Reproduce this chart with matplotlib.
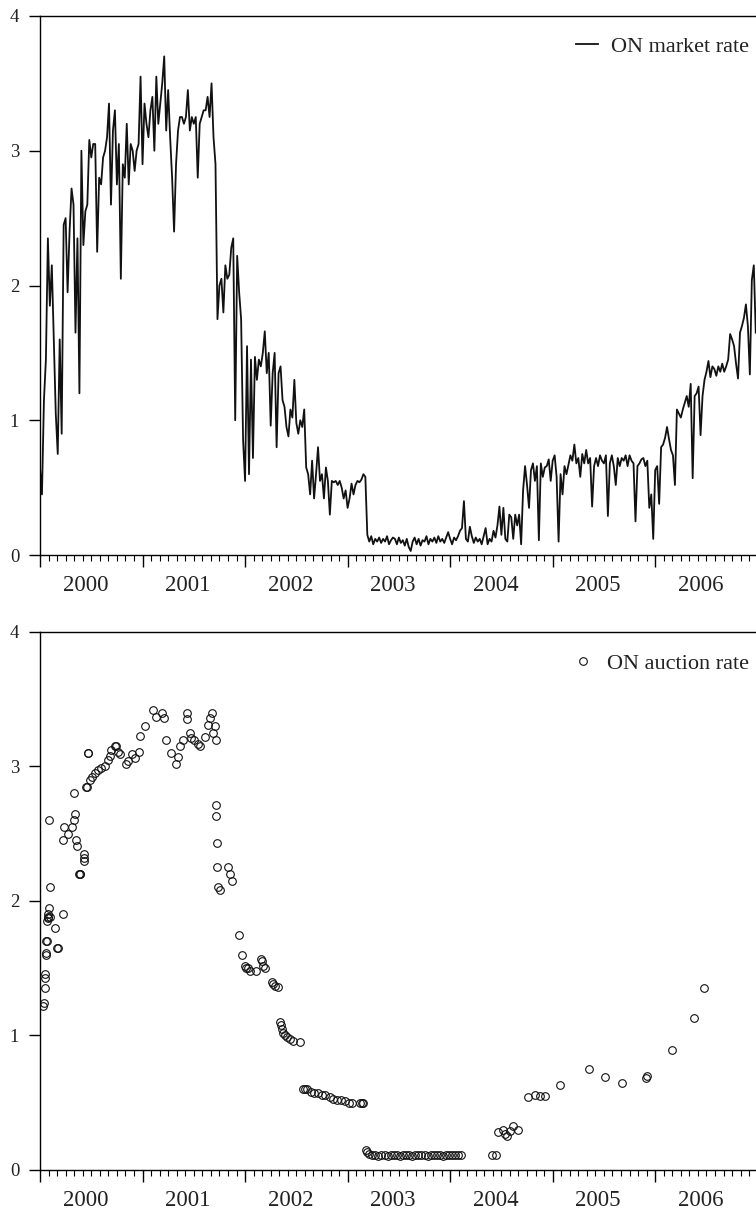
import numpy as np
import matplotlib
matplotlib.use('Agg')
import matplotlib.pyplot as plt
from matplotlib.ticker import MultipleLocator, FixedLocator

plt.rcParams['font.family'] = ['Liberation Serif', 'DejaVu Serif']

# weekly ON market rate, 52 values per year, 2000-2006
market_2000 = [0.65, 0.45, 1.15, 1.45, 2.35, 1.85, 2.15, 1.6, 1.05, 0.75,
               1.6, 0.9, 2.45, 2.5, 1.95, 2.4, 2.72, 2.6, 1.65, 2.35,
               1.2, 3.0, 2.3, 2.55, 2.6, 3.08, 2.95, 3.05, 3.05, 2.25,
               2.8, 2.75, 2.95, 3.0, 3.1, 3.35, 2.6, 3.15, 3.3, 2.75,
               3.05, 2.05, 2.9, 2.8, 3.2, 2.75, 3.05, 3.0, 2.85, 3.0,
               3.05, 3.55]
market_2001 = [2.9, 3.35, 3.2, 3.1, 3.3, 3.4, 3.0, 3.55, 3.2, 3.35,
               3.5, 3.7, 3.15, 3.45, 3.1, 2.8, 2.4, 2.9, 3.15, 3.25,
               3.25, 3.2, 3.25, 3.45, 3.15, 3.25, 3.2, 3.25, 2.8, 3.2,
               3.25, 3.3, 3.3, 3.4, 3.25, 3.5, 3.1, 2.9, 1.75, 2.0,
               2.05, 1.8, 2.15, 2.05, 2.08, 2.28, 2.35, 1.0, 2.22, 1.95,
               1.75, 0.85]
market_2002 = [0.55, 1.55, 0.6, 1.45, 0.72, 1.47, 1.3, 1.45, 1.4, 1.5,
               1.66, 1.35, 1.5, 0.96, 1.35, 1.5, 0.8, 1.35, 1.4, 1.15,
               1.1, 0.95, 0.88, 1.08, 1.02, 1.3, 0.98, 0.9, 1.0, 0.95,
               1.08, 0.65, 0.6, 0.45, 0.7, 0.42, 0.6, 0.8, 0.55, 0.6,
               0.42, 0.65, 0.55, 0.3, 0.55, 0.54, 0.55, 0.52, 0.55, 0.5,
               0.42, 0.48]
market_2003 = [0.35, 0.42, 0.53, 0.45, 0.52, 0.55, 0.54, 0.56, 0.6, 0.58,
               0.15, 0.1, 0.14, 0.08, 0.12, 0.1, 0.13, 0.09, 0.12, 0.1,
               0.14, 0.08, 0.11, 0.13, 0.12, 0.08, 0.13, 0.09, 0.11, 0.07,
               0.12, 0.06, 0.03, 0.1, 0.13, 0.08, 0.12, 0.07, 0.11, 0.1,
               0.14, 0.08, 0.12, 0.1, 0.13, 0.09, 0.14, 0.1, 0.12, 0.09,
               0.13, 0.17]
market_2004 = [0.12, 0.08, 0.13, 0.11, 0.14, 0.18, 0.2, 0.4, 0.12, 0.1,
               0.21, 0.14, 0.09, 0.13, 0.1, 0.12, 0.08, 0.14, 0.2, 0.08,
               0.12, 0.1, 0.18, 0.13, 0.22, 0.36, 0.15, 0.35, 0.12, 0.1,
               0.3, 0.28, 0.12, 0.3, 0.22, 0.3, 0.08, 0.48, 0.66, 0.52,
               0.35, 0.63, 0.68, 0.55, 0.66, 0.11, 0.68, 0.58, 0.65, 0.66,
               0.71, 0.55]
market_2005 = [0.7, 0.74, 0.58, 0.1, 0.6, 0.45, 0.66, 0.6, 0.67, 0.74,
               0.7, 0.82, 0.68, 0.72, 0.58, 0.75, 0.68, 0.78, 0.68, 0.72,
               0.36, 0.66, 0.72, 0.66, 0.74, 0.7, 0.68, 0.74, 0.29, 0.68,
               0.74, 0.66, 0.52, 0.72, 0.66, 0.72, 0.7, 0.74, 0.66, 0.74,
               0.7, 0.68, 0.25, 0.66, 0.68, 0.71, 0.72, 0.66, 0.7, 0.35,
               0.45, 0.12]
market_2006 = [0.63, 0.66, 0.38, 0.8, 0.82, 0.87, 0.95, 0.86, 0.78, 0.74,
               0.52, 1.08, 1.05, 1.02, 1.08, 1.13, 1.18, 1.1, 1.27, 0.57,
               1.18, 1.2, 1.25, 0.89, 1.18, 1.3, 1.36, 1.44, 1.32, 1.4,
               1.38, 1.33, 1.4, 1.36, 1.42, 1.36, 1.4, 1.45, 1.64, 1.6,
               1.55, 1.42, 1.31, 1.65, 1.7, 1.76, 1.86, 1.7, 1.34, 2.04,
               2.15, 1.65]

market_rate = (market_2000 + market_2001 + market_2002 + market_2003
               + market_2004 + market_2005 + market_2006)

# ON auction rate: auction time (decimal year) and rate
auction_time = [
    2000.034, 2000.036, 2000.044, 2000.046, 2000.048, 2000.054, 2000.056, 2000.063,
    2000.065, 2000.073, 2000.075, 2000.078, 2000.080, 2000.083, 2000.088, 2000.093,
    2000.100, 2000.142, 2000.161, 2000.171, 2000.220, 2000.220, 2000.232, 2000.278,
    2000.310, 2000.327, 2000.330, 2000.344, 2000.353, 2000.359, 2000.376, 2000.386,
    2000.395, 2000.425, 2000.430, 2000.434, 2000.444, 2000.457, 2000.467, 2000.470,
    2000.483, 2000.509, 2000.532, 2000.564, 2000.597, 2000.630, 2000.662, 2000.678,
    2000.695, 2000.727, 2000.740, 2000.759, 2000.783, 2000.841, 2000.857, 2000.900,
    2000.922, 2000.964, 2000.971, 2001.020, 2001.101, 2001.134, 2001.193, 2001.208,
    2001.225, 2001.274, 2001.329, 2001.345, 2001.362, 2001.394, 2001.433, 2001.437,
    2001.459, 2001.476, 2001.498, 2001.540, 2001.557, 2001.606, 2001.638, 2001.661,
    2001.681, 2001.686, 2001.703, 2001.713, 2001.716, 2001.720, 2001.722, 2001.725,
    2001.732, 2001.752, 2001.830, 2001.849, 2001.869, 2001.937, 2001.967, 2001.996,
    2002.010, 2002.025, 2002.045, 2002.103, 2002.152, 2002.162, 2002.172, 2002.191,
    2002.259, 2002.275, 2002.289, 2002.318, 2002.338, 2002.347, 2002.357, 2002.367,
    2002.387, 2002.406, 2002.436, 2002.465, 2002.533, 2002.562, 2002.582, 2002.601,
    2002.640, 2002.670, 2002.709, 2002.748, 2002.777, 2002.826, 2002.855, 2002.894,
    2002.933, 2002.972, 2003.011, 2003.040, 2003.118, 2003.138, 2003.148, 2003.177,
    2003.187, 2003.206, 2003.240, 2003.270, 2003.300, 2003.330, 2003.360, 2003.390,
    2003.420, 2003.450, 2003.480, 2003.510, 2003.540, 2003.570, 2003.600, 2003.630,
    2003.660, 2003.690, 2003.720, 2003.750, 2003.780, 2003.810, 2003.840, 2003.870,
    2003.900, 2003.930, 2003.960, 2003.990, 2004.020, 2004.050, 2004.080, 2004.110,
    2004.410, 2004.450, 2004.468, 2004.511, 2004.533, 2004.556, 2004.582, 2004.615,
    2004.663, 2004.758, 2004.826, 2004.875, 2004.924, 2005.070, 2005.353, 2005.509,
    2005.675, 2005.909, 2005.918, 2006.162, 2006.377, 2006.474]
auction_rate = [
    1.22, 1.24, 1.35, 1.43, 1.46, 1.60, 1.61, 1.70,
    1.70, 1.85, 1.87, 1.88, 1.90, 2.60, 1.95, 2.10,
    1.88, 1.80, 1.65, 1.65, 1.90, 2.45, 2.55, 2.50,
    2.55, 2.60, 2.80, 2.65, 2.45, 2.41, 2.20, 2.20,
    2.20, 2.30, 2.32, 2.35, 2.85, 2.85, 3.10, 3.10,
    2.90, 2.92, 2.95, 2.97, 2.99, 3.00, 3.05, 3.08,
    3.12, 3.15, 3.15, 3.11, 3.09, 3.02, 3.04, 3.09,
    3.06, 3.11, 3.23, 3.30, 3.42, 3.37, 3.40, 3.36,
    3.20, 3.10, 3.02, 3.07, 3.15, 3.20, 3.40, 3.35,
    3.25, 3.21, 3.20, 3.17, 3.15, 3.22, 3.31, 3.36,
    3.40, 3.25, 3.30, 3.20, 2.71, 2.63, 2.43, 2.25,
    2.10, 2.08, 2.25, 2.20, 2.15, 1.75, 1.60, 1.52,
    1.50, 1.50, 1.48, 1.48, 1.57, 1.55, 1.52, 1.50,
    1.40, 1.38, 1.37, 1.36, 1.10, 1.08, 1.05, 1.02,
    1.00, 0.99, 0.97, 0.96, 0.95, 0.60, 0.60, 0.60,
    0.58, 0.57, 0.57, 0.56, 0.56, 0.54, 0.53, 0.52,
    0.52, 0.51, 0.50, 0.50, 0.50, 0.50, 0.50, 0.15,
    0.13, 0.12, 0.11, 0.11, 0.10, 0.11, 0.11, 0.10,
    0.11, 0.11, 0.11, 0.10, 0.11, 0.11, 0.11, 0.10,
    0.11, 0.11, 0.11, 0.11, 0.10, 0.11, 0.11, 0.11,
    0.11, 0.10, 0.11, 0.11, 0.11, 0.11, 0.11, 0.11,
    0.11, 0.11, 0.285, 0.30, 0.27, 0.25, 0.29, 0.33,
    0.30, 0.54, 0.56, 0.55, 0.55, 0.63, 0.75, 0.69,
    0.65, 0.68, 0.70, 0.89, 1.13, 1.35]

years = [2000, 2001, 2002, 2003, 2004, 2005, 2006]

market_time = 2000 + np.arange(len(market_rate)) / 52.0

fig = plt.figure(figsize=(7.56, 12.09), dpi=100)
ax1 = fig.add_axes([0.0529, 0.5409, 0.9471, 0.4459])
ax2 = fig.add_axes([0.0529, 0.0323, 0.9471, 0.4450])

text_color = '#222222'


def style_axis(ax):
    ax.set_xlim(2000.0, 2006.983)
    ax.set_ylim(0, 4)
    ax.spines['right'].set_visible(False)
    for s in ['left', 'top', 'bottom']:
        ax.spines[s].set_linewidth(1.0)
    ax.yaxis.set_major_locator(MultipleLocator(1))
    ax.xaxis.set_major_locator(FixedLocator(years + [2007]))
    ax.xaxis.set_minor_locator(MultipleLocator(1 / 12))
    ax.set_xticklabels([])
    ax.tick_params(axis='y', direction='out', length=8, width=1.0, labelsize=13.5, pad=7, colors=text_color)
    ax.tick_params(axis='y', colors='black', labelcolor=text_color)
    ax.tick_params(axis='x', which='major', direction='out', length=8.5, width=1.0)
    ax.tick_params(axis='x', which='minor', direction='out', length=4.5, width=0.8)
    # year labels centred under each year
    for yr in years:
        ax.annotate(str(yr), xy=(yr + 0.5, 0), xycoords=('data', 'axes fraction'),
                    xytext=(-4.3, -14.5), textcoords='offset points',
                    ha='center', va='top', fontsize=16.5, color=text_color)


ax1.plot(market_time, market_rate, color='#111111', lw=1.3, label='ON market rate')
style_axis(ax1)
ax1.legend(loc='upper right', bbox_to_anchor=(1.0, 0.9746), frameon=False, fontsize=16,
           handlelength=1.0, handletextpad=0.6, borderaxespad=0, borderpad=0.3,
           labelcolor=text_color)

ax2.plot(auction_time, auction_rate, 'o', mfc='none', mec='#111111', ms=5.5, mew=0.8,
         label='ON auction rate')
style_axis(ax2)
ax2.legend(loc='upper right', bbox_to_anchor=(1.0, 0.9727), frameon=False, fontsize=16,
           handlelength=1.0, handletextpad=0.6, borderaxespad=0, borderpad=0.3,
           labelcolor=text_color)

fig.savefig('out.png', dpi=100)
